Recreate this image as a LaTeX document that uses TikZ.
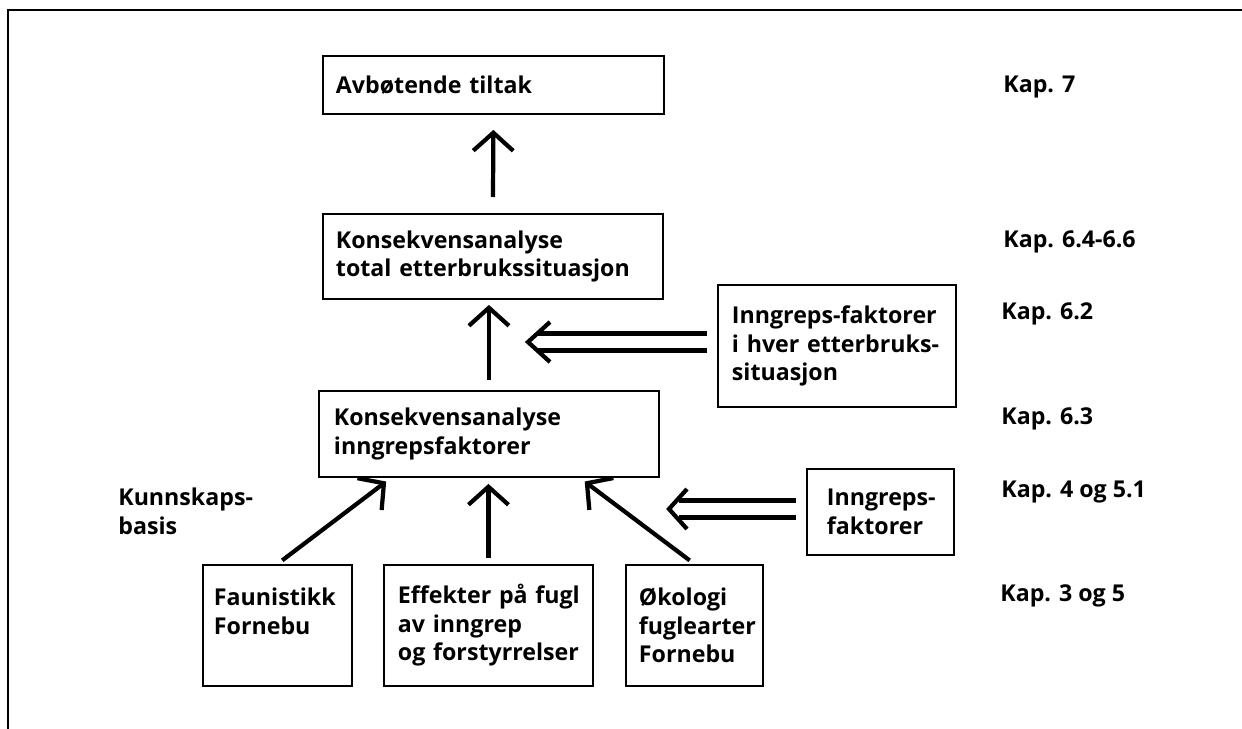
\documentclass[tikz,border=0pt]{standalone}
\usepackage{fontspec}
\setmainfont{Open Sans}
\usetikzlibrary{arrows.meta,calc}

\tikzstyle{process} = [rectangle, draw=black, line width=1.1pt, anchor=north west, align=left, inner xsep=0.26cm, inner ysep=0pt, font=\bfseries\fontsize{13.2}{16.2}\selectfont]
\tikzstyle{arrow} = [line width=2.4pt, -{Straight Barb[length=0.36cm,width=0.8cm]}, shorten >=0.12cm, shorten <=0.12cm]
\tikzstyle{dbl} = [line width=2.4pt]
\tikzstyle{kap} = [anchor=base west, inner sep=0pt, font=\bfseries\fontsize{13.2}{16.2}\selectfont]

\begin{document}
\begin{tikzpicture}[x=0.02cm, y=-0.02cm]
    \useasboundingbox (0,0) rectangle (1242,729);
    \draw [line width=1.4pt] (8,729) -- (8,10) -- (1242,10);

    \node (avb) [process, text width=6.3cm, minimum height=1.16cm] at (322,55) {Avbøtende~tiltak};
    \node (kontot) [process, text width=6.28cm, minimum height=1.7cm] at (322,213) {Konsekvensanalyse\\total~etterbrukssituasjon};
    \node (inngrep6) [process, inner xsep=0.28cm, text width=4.2cm, minimum height=2.44cm] at (717,284) {\mbox{Inngreps-faktorer}\\i~hver~\mbox{etterbruks-}\\situasjon};
    \node (konsinn) [process, inner xsep=0.3cm, text width=6.2cm, minimum height=1.72cm] at (318,390) {Konsekvensanalyse\\inngrepsfaktorer};
    \node (inngrep4) [process, inner xsep=0.4cm, text width=2.14cm, minimum height=1.72cm] at (806,468) {\mbox{Inngreps-}\\faktorer};
    \node (faun) [process, inner xsep=0.22cm, text width=2.54cm, minimum height=2.42cm] at (202,564) {Faunistikk\\Fornebu\\~};
    \node (effekt) [process, inner xsep=0.28cm, text width=3.62cm, minimum height=2.42cm] at (383,564) {Effekter~på~fugl\\av~inngrep\\og~forstyrrelser};
    \node (okol) [process, text width=2.22cm, minimum height=2.42cm] at (625,564) {Økologi\\fuglearter\\Fornebu};

    \node (kap7) [kap] at (1003,93) {Kap. 7};
    \node (kap64) [kap] at (1003,248) {Kap. 6.4-6.6};
    \node (kap62) [kap] at (1001,320) {Kap. 6.2};
    \node (kap63) [kap] at (1001,425) {Kap. 6.3};
    \node (kap4) [kap] at (1001,498) {Kap. 4 og 5.1};
    \node (kap3) [kap] at (1000,602) {Kap. 3 og 5};
    \node (basis) [kap, align=left, anchor=north west] at (118,488) {Kunnskaps-\\basis};

    \draw [arrow, shorten >=0.3cm, shorten <=0.32cm] (kontot.north) -- (avb.south);
    \draw [arrow, shorten >=0.1cm, shorten <=0.2cm] (konsinn.north) -- (konsinn.north |- kontot.south);
    \draw [arrow] (faun.north) -- ([xshift=-1.96cm]konsinn.south);
    \draw [arrow] (effekt.north) -- (effekt.north |- konsinn.south);
    \draw [arrow] (okol.north) -- ([xshift=1.82cm]konsinn.south);

    \coordinate (tip62) at (528,342);
    \coordinate (tail62) at (inngrep6.west |- tip62);
    \draw [dbl] ([shift={(-10,-8.5)}]tail62) -- ([shift={(10,-8.5)}]tip62);
    \draw [dbl] ([shift={(-10,8.5)}]tail62) -- ([shift={(10,8.5)}]tip62);
    \draw [dbl] ([shift={(22,-20)}]tip62) -- (tip62) -- ([shift={(22,20)}]tip62);

    \coordinate (tip4) at (669,509);
    \coordinate (tail4) at (inngrep4.west |- tip4);
    \draw [dbl] ([shift={(-10,-8.5)}]tail4) -- ([shift={(10,-8.5)}]tip4);
    \draw [dbl] ([shift={(-10,8.5)}]tail4) -- ([shift={(10,8.5)}]tip4);
    \draw [dbl] ([shift={(18,-20)}]tip4) -- (tip4) -- ([shift={(18,20)}]tip4);
\end{tikzpicture}
\end{document}
